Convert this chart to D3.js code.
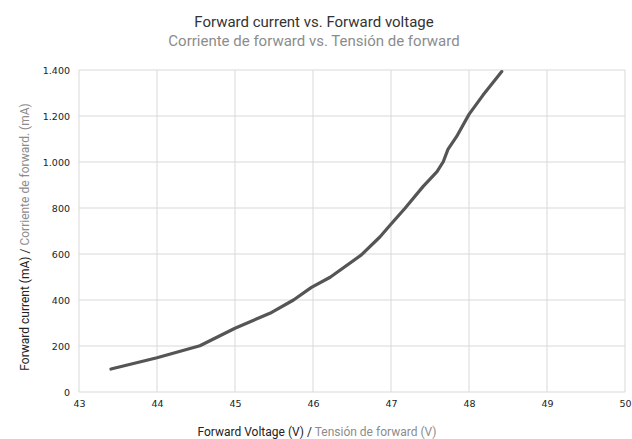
<!DOCTYPE html>
<html>
<head>
<meta charset="utf-8">
<script src="https://cdn.jsdelivr.net/npm/d3@7"></script>
<style>
  body { margin: 0; background: #fff; }
  .tick text { font-family: "DejaVu Sans", sans-serif; font-size: 9.5px; fill: #222; }
</style>
</head>
<body>
<div id="chart"></div>
<script>
// curve
const voltage = [43.41, 44.0, 44.55, 45.0, 45.47, 45.75, 45.98, 46.22, 46.62, 46.86, 46.99, 47.18, 47.41, 47.59, 47.67, 47.73, 47.84, 48.0, 48.18, 48.42];
const current = [100, 149, 201, 277, 346, 400, 455, 499, 596, 675, 726, 799, 893, 958, 1001, 1055, 1110, 1207, 1291, 1393];

const xTicks = [43, 44, 45, 46, 47, 48, 49, 50];
const yTicks = [0, 200, 400, 600, 800, 1000, 1200, 1400];
const yTickLabels = ["0", "200", "400", "600", "800", "1.000", "1.200", "1.400"];

const width = 632, height = 439;
const margin = { top: 70, right: 7, bottom: 47, left: 79 };

const svg = d3.select("#chart").append("svg")
    .attr("width", width)
    .attr("height", height);

const x = d3.scaleLinear().domain([43, 50]).range([margin.left, width - margin.right]);
const y = d3.scaleLinear().domain([0, 1400]).range([height - margin.bottom, margin.top]);

// grid
svg.append("g")
    .selectAll("line.v")
    .data(xTicks)
    .join("line")
    .attr("x1", d => x(d)).attr("x2", d => x(d))
    .attr("y1", y(0)).attr("y2", y(1400))
    .attr("stroke", "#d9d9d9").attr("stroke-width", 1);

svg.append("g")
    .selectAll("line.h")
    .data(yTicks)
    .join("line")
    .attr("x1", x(43)).attr("x2", x(50))
    .attr("y1", d => y(d)).attr("y2", d => y(d))
    .attr("stroke", "#d9d9d9").attr("stroke-width", 1);

// axes (labels only)
const xAxis = svg.append("g")
    .attr("transform", `translate(0,${y(0)})`)
    .call(d3.axisBottom(x).tickValues(xTicks).tickSize(0).tickPadding(8).tickFormat(d3.format("d")));
xAxis.select(".domain").remove();

const yAxis = svg.append("g")
    .attr("transform", `translate(${x(43)},0)`)
    .call(d3.axisLeft(y).tickValues(yTicks).tickSize(0).tickPadding(9).tickFormat((d, i) => yTickLabels[i]));
yAxis.select(".domain").remove();

// the curve, straight segments like the original
const line = d3.line()
    .x(d => x(d[0]))
    .y(d => y(d[1]));

svg.append("path")
    .datum(voltage.map((v, i) => [v, current[i]]))
    .attr("d", line)
    .attr("fill", "none")
    .attr("stroke", "#555555")
    .attr("stroke-width", 3.2)
    .attr("stroke-linecap", "round")
    .attr("stroke-linejoin", "round");

// titles
svg.append("text")
    .attr("x", 314).attr("y", 27)
    .attr("text-anchor", "middle")
    .style("font-family", "Roboto, sans-serif")
    .style("font-size", "15px")
    .style("fill", "#333")
    .text("Forward current vs. Forward voltage");

svg.append("text")
    .attr("x", 314).attr("y", 46)
    .attr("text-anchor", "middle")
    .style("font-family", "Roboto, sans-serif")
    .style("font-size", "15px")
    .style("fill", "#8c8c8c")
    .text("Corriente de forward vs. Tensión de forward");

const xt = svg.append("text")
    .attr("x", 317).attr("y", 436)
    .attr("text-anchor", "middle")
    .style("font-family", "Roboto, sans-serif")
    .style("font-size", "12px");
xt.append("tspan").style("fill", "#222").text("Forward Voltage (V) / ");
xt.append("tspan").style("fill", "#8c8c8c").text("Tensión de forward (V)");

const yt = svg.append("text")
    .attr("transform", `translate(29,${(y(0) + y(1400)) / 2 + 6}) rotate(-90)`)
    .attr("text-anchor", "middle")
    .style("font-family", "Roboto, sans-serif")
    .style("font-size", "12px");
yt.append("tspan").style("fill", "#222").text("Forward current (mA) / ");
yt.append("tspan").style("fill", "#8c8c8c").text("Corriente de forward. (mA)");
</script>
</body>
</html>
